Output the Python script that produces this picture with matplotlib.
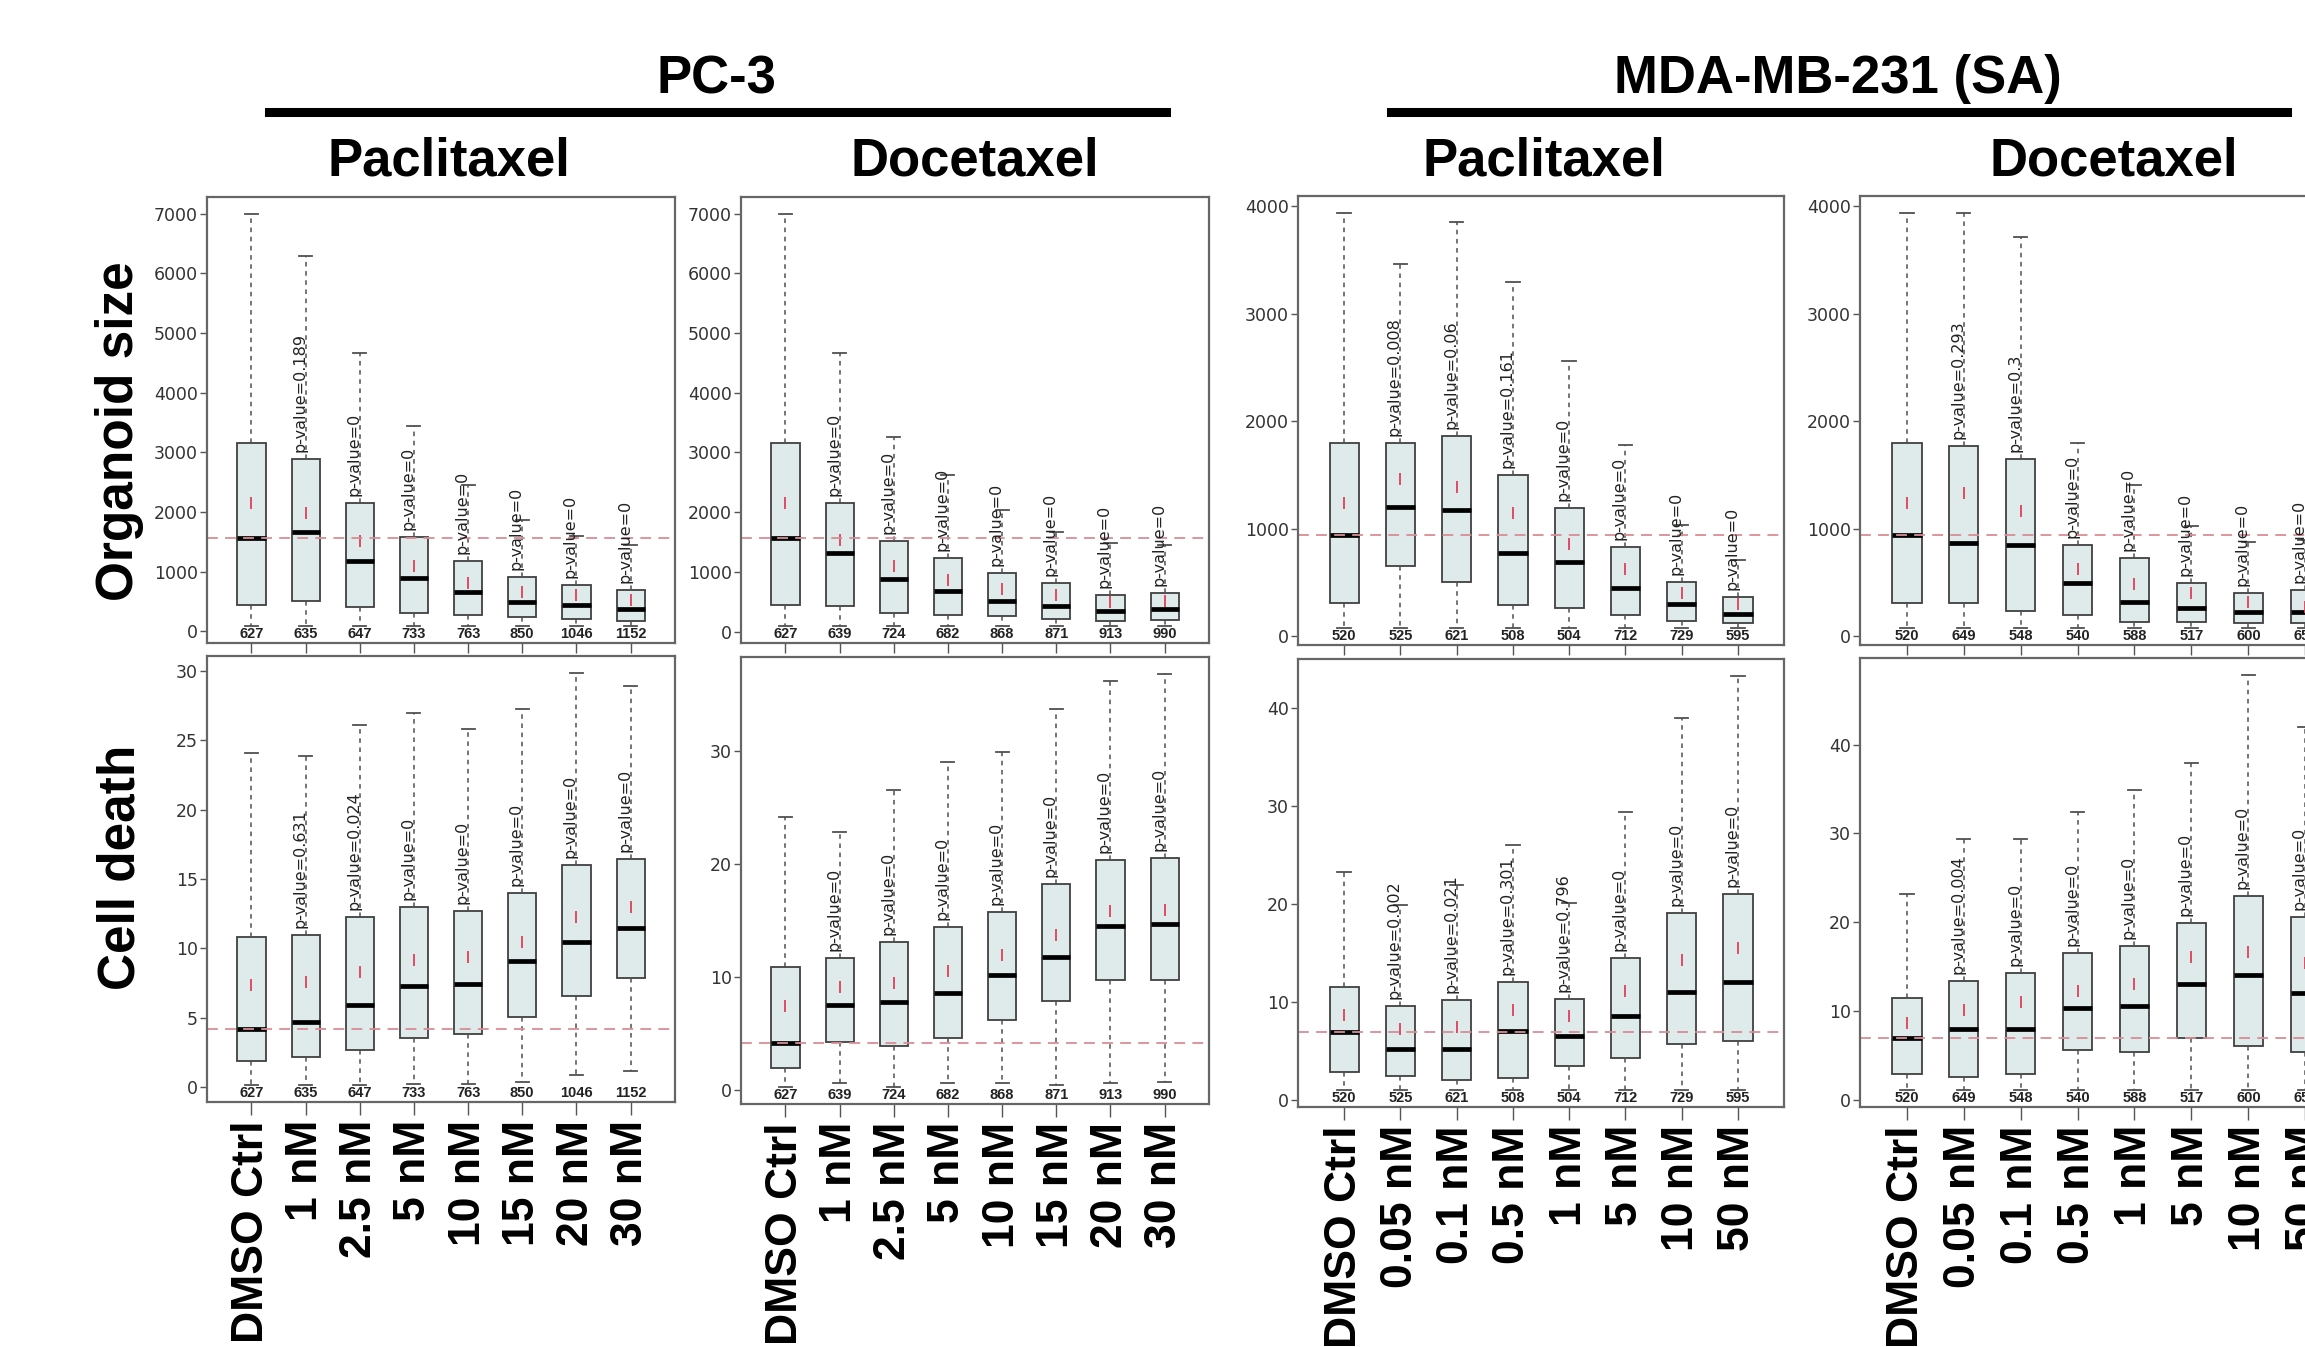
import matplotlib
matplotlib.use("Agg")
import matplotlib.pyplot as plt
from matplotlib import font_manager
from matplotlib.lines import Line2D
from matplotlib.ticker import MultipleLocator, FuncFormatter
from matplotlib.transforms import blended_transform_factory, offset_copy

W, H, DPI = 2305, 1347, 100

# ---------------- data ----------------
pc3_doses = ["DMSO Ctrl", "1 nM", "2.5 nM", "5 nM", "10 nM", "15 nM", "20 nM", "30 nM"]
mda_doses = ["DMSO Ctrl", "0.05 nM", "0.1 nM", "0.5 nM", "1 nM", "5 nM", "10 nM", "50 nM"]

pc3_pac_n = ["627", "635", "647", "733", "763", "850", "1046", "1152"]
pc3_doc_n = ["627", "639", "724", "682", "868", "871", "913", "990"]
mda_pac_n = ["520", "525", "621", "508", "504", "712", "729", "595"]
mda_doc_n = ["520", "649", "548", "540", "588", "517", "600", "652"]

# Organoid size
pc3_pac_size_whishi = [7000, 6290, 4670, 3440, 2450, 1870, 1600, 1450]
pc3_pac_size_q3 = [3150, 2880, 2150, 1580, 1180, 910, 770, 690]
pc3_pac_size_med = [1560, 1660, 1180, 900, 650, 485, 445, 380]
pc3_pac_size_q1 = [445, 500, 405, 305, 280, 235, 205, 170]
pc3_pac_size_whislo = [88, 95, 85, 85, 85, 85, 85, 80]
pc3_pac_size_mean = [2150, 1980, 1505, 1100, 810, 655, 615, 520]
pc3_pac_size_p = ["0.189", "0", "0", "0", "0", "0", "0"]

pc3_doc_size_whishi = [7000, 4660, 3260, 2620, 2040, 1670, 1480, 1450]
pc3_doc_size_q3 = [3150, 2150, 1520, 1240, 975, 810, 615, 640]
pc3_doc_size_med = [1560, 1320, 875, 680, 520, 430, 350, 375]
pc3_doc_size_q1 = [445, 430, 305, 280, 260, 205, 185, 195]
pc3_doc_size_whislo = [88, 90, 85, 85, 85, 85, 85, 85]
pc3_doc_size_mean = [2150, 1535, 1090, 865, 710, 615, 500, 520]
pc3_doc_size_p = ["0", "0", "0", "0", "0", "0", "0"]

mda_pac_size_whishi = [3940, 3460, 3850, 3290, 2560, 1780, 1030, 710]
mda_pac_size_q3 = [1795, 1795, 1865, 1500, 1195, 825, 500, 365]
mda_pac_size_med = [940, 1205, 1175, 770, 685, 445, 295, 210]
mda_pac_size_q1 = [305, 655, 505, 285, 265, 195, 145, 120]
mda_pac_size_whislo = [75, 80, 75, 80, 80, 75, 72, 75]
mda_pac_size_mean = [1240, 1460, 1385, 1145, 855, 620, 405, 300]
mda_pac_size_p = ["0.008", "0.06", "0.161", "0", "0", "0", "0"]

mda_doc_size_whishi = [3940, 3940, 3715, 1795, 1405, 1020, 880, 890]
mda_doc_size_q3 = [1795, 1765, 1645, 850, 730, 490, 400, 430]
mda_doc_size_med = [940, 870, 850, 495, 320, 260, 220, 225]
mda_doc_size_q1 = [305, 305, 235, 200, 135, 135, 120, 120]
mda_doc_size_whislo = [75, 78, 72, 80, 80, 75, 75, 75]
mda_doc_size_mean = [1240, 1330, 1165, 620, 485, 400, 320, 275]
mda_doc_size_p = ["0.293", "0.3", "0", "0", "0", "0", "0"]

# Cell death
pc3_pac_death_whishi = [24.1, 23.9, 26.1, 27.0, 25.8, 27.3, 29.9, 28.9]
pc3_pac_death_q3 = [10.85, 10.95, 12.3, 13.0, 12.7, 14.0, 16.0, 16.45]
pc3_pac_death_med = [4.2, 4.7, 5.9, 7.3, 7.45, 9.1, 10.5, 11.45]
pc3_pac_death_q1 = [1.85, 2.15, 2.7, 3.55, 3.8, 5.05, 6.55, 7.9]
pc3_pac_death_whislo = [0.12, 0.12, 0.12, 0.25, 0.25, 0.35, 0.85, 1.2]
pc3_pac_death_mean = [7.4, 7.6, 8.3, 9.15, 9.4, 10.5, 12.25, 13.0]
pc3_pac_death_p = ["0.631", "0.024", "0", "0", "0", "0", "0"]

pc3_doc_death_whishi = [24.1, 22.8, 26.5, 29.0, 29.9, 33.7, 36.1, 36.8]
pc3_doc_death_q3 = [10.9, 11.7, 13.1, 14.4, 15.7, 18.25, 20.35, 20.5]
pc3_doc_death_med = [4.2, 7.5, 7.8, 8.6, 10.2, 11.75, 14.5, 14.7]
pc3_doc_death_q1 = [1.95, 4.25, 3.9, 4.6, 6.25, 7.85, 9.75, 9.75]
pc3_doc_death_whislo = [0.25, 0.6, 0.3, 0.65, 0.65, 0.45, 0.6, 0.75]
pc3_doc_death_mean = [7.45, 9.1, 9.5, 10.55, 11.95, 13.75, 15.8, 15.9]
pc3_doc_death_p = ["0", "0", "0", "0", "0", "0", "0"]

mda_pac_death_whishi = [23.25, 19.9, 21.9, 26.0, 20.1, 29.4, 39.0, 43.3]
mda_pac_death_q3 = [11.55, 9.6, 10.2, 12.1, 10.3, 14.5, 19.05, 21.0]
mda_pac_death_med = [6.95, 5.25, 5.25, 7.05, 6.55, 8.55, 11.05, 12.1]
mda_pac_death_q1 = [2.9, 2.45, 2.05, 2.25, 3.45, 4.3, 5.7, 6.0]
mda_pac_death_whislo = [1.02, 1.0, 1.02, 1.0, 1.02, 1.0, 1.02, 1.0]
mda_pac_death_mean = [8.65, 7.3, 7.45, 9.15, 8.55, 11.15, 14.3, 15.55]
mda_pac_death_p = ["0.002", "0.021", "0.301", "0.796", "0", "0", "0"]

mda_doc_death_whishi = [23.2, 29.4, 29.4, 32.4, 34.9, 37.9, 47.9, 42.0]
mda_doc_death_q3 = [11.5, 13.35, 14.3, 16.5, 17.3, 19.95, 22.95, 20.6]
mda_doc_death_med = [6.9, 8.0, 8.0, 10.35, 10.55, 13.0, 14.1, 12.05]
mda_doc_death_q1 = [2.85, 2.55, 2.95, 5.65, 5.4, 7.0, 6.05, 5.4]
mda_doc_death_whislo = [1.05, 1.05, 1.05, 1.05, 1.05, 1.05, 1.05, 1.05]
mda_doc_death_mean = [8.6, 10.1, 11.05, 12.25, 13.0, 16.1, 16.6, 15.35]
mda_doc_death_p = ["0.004", "0", "0", "0", "0", "0", "0"]

y_tick_steps = [1000, 1000, 1000, 1000, 5, 10, 10, 10]

# ---------------- fonts ----------------
def has_font(name):
    try:
        font_manager.findfont(font_manager.FontProperties(family=name),
                              fallback_to_default=False)
        return True
    except Exception:
        return False

SANS = "Liberation Sans" if has_font("Liberation Sans") else "DejaVu Sans"
if has_font("Liberation Sans Narrow"):
    N_FONT, N_SIZE = "Liberation Sans Narrow", 11.5
else:
    N_FONT, N_SIZE = SANS, 10.5

# ---------------- layout (pixels) ----------------
panels = [
    ((207, 197, 468, 446), pc3_doses, pc3_pac_n, pc3_pac_size_whishi, pc3_pac_size_q3,
     pc3_pac_size_med, pc3_pac_size_q1, pc3_pac_size_whislo, pc3_pac_size_mean, pc3_pac_size_p, False),
    ((741, 197, 468, 446), pc3_doses, pc3_doc_n, pc3_doc_size_whishi, pc3_doc_size_q3,
     pc3_doc_size_med, pc3_doc_size_q1, pc3_doc_size_whislo, pc3_doc_size_mean, pc3_doc_size_p, False),
    ((1298, 196, 486, 449), mda_doses, mda_pac_n, mda_pac_size_whishi, mda_pac_size_q3,
     mda_pac_size_med, mda_pac_size_q1, mda_pac_size_whislo, mda_pac_size_mean, mda_pac_size_p, False),
    ((1860, 196, 492, 449), mda_doses, mda_doc_n, mda_doc_size_whishi, mda_doc_size_q3,
     mda_doc_size_med, mda_doc_size_q1, mda_doc_size_whislo, mda_doc_size_mean, mda_doc_size_p, False),
    ((207, 656, 468, 446), pc3_doses, pc3_pac_n, pc3_pac_death_whishi, pc3_pac_death_q3,
     pc3_pac_death_med, pc3_pac_death_q1, pc3_pac_death_whislo, pc3_pac_death_mean, pc3_pac_death_p, True),
    ((741, 657, 468, 447), pc3_doses, pc3_doc_n, pc3_doc_death_whishi, pc3_doc_death_q3,
     pc3_doc_death_med, pc3_doc_death_q1, pc3_doc_death_whislo, pc3_doc_death_mean, pc3_doc_death_p, True),
    ((1298, 659, 486, 448), mda_doses, mda_pac_n, mda_pac_death_whishi, mda_pac_death_q3,
     mda_pac_death_med, mda_pac_death_q1, mda_pac_death_whislo, mda_pac_death_mean, mda_pac_death_p, True),
    ((1860, 658, 492, 449), mda_doses, mda_doc_n, mda_doc_death_whishi, mda_doc_death_q3,
     mda_doc_death_med, mda_doc_death_q1, mda_doc_death_whislo, mda_doc_death_mean, mda_doc_death_p, True),
]

BOX_FILL = "#deebea"
EDGE = "#404040"
FRAME = "#666666"

fig = plt.figure(figsize=(W / DPI, H / DPI), dpi=DPI)
fig.patch.set_facecolor("white")

for idx, (rect, doses, ns, whishi, q3, med, q1, whislo, mean, pvals, bottom_row) in enumerate(panels):
    l, t, w, h = rect
    ax = fig.add_axes([l / W, 1 - (t + h) / H, w / W, h / H])
    positions = list(range(1, len(doses) + 1))
    stats = []
    for i in range(len(doses)):
        stats.append(dict(med=med[i], q1=q1[i], q3=q3[i], whislo=whislo[i],
                          whishi=whishi[i], mean=mean[i], fliers=[]))
    ax.bxp(stats, positions=positions, widths=0.52, capwidths=0.24,
           patch_artist=True, showmeans=True, manage_ticks=False,
           boxprops=dict(facecolor=BOX_FILL, edgecolor=EDGE, linewidth=1.3),
           whiskerprops=dict(color="#505050", linewidth=1.1, linestyle=(0, (3, 3))),
           capprops=dict(color="#505050", linewidth=1.3),
           medianprops=dict(color="black", linewidth=3.4),
           meanprops=dict(marker="|", markeredgecolor="#e0405a", markersize=8,
                          markeredgewidth=1.3, linestyle="none"))
    # reference line at the control median
    ax.axhline(med[0], color="#d98c95", linewidth=1.3, linestyle=(0, (6, 4)), zorder=2.5)

    # limits (R-style 4 % padding)
    lo, hi = min(whislo), max(whishi)
    pad = 0.04 * (hi - lo)
    ax.set_ylim(lo - pad, hi + pad)
    ax.set_xlim(0.5 - 0.04 * len(doses), len(doses) + 0.5 + 0.04 * len(doses))
    ax.yaxis.set_major_locator(MultipleLocator(y_tick_steps[idx]))
    ax.yaxis.set_major_formatter(FuncFormatter(lambda v, p: "%g" % v))

    for sp in ax.spines.values():
        sp.set_color(FRAME)
        sp.set_linewidth(1.6)

    ax.tick_params(axis="y", direction="out", length=5, width=1.0, color="#555555",
                   labelsize=12.5, labelcolor="#333333", pad=1.5)
    ax.set_xticks(positions)
    if bottom_row:
        ax.set_xticklabels(doses, rotation=90, fontsize=32, fontweight="bold",
                           fontfamily=SANS, color="black")
        ax.tick_params(axis="x", direction="out", length=9, width=1.0, color="#555555", pad=4)
    else:
        ax.tick_params(axis="x", direction="out", length=7.5, width=1.0, color="#555555",
                       labelbottom=False)

    # n labels along the bottom of the plotting region
    btrans = blended_transform_factory(ax.transData, ax.transAxes)
    for x, n in zip(positions, ns):
        ax.text(x, 0.004, n, transform=btrans, ha="center", va="bottom",
                fontsize=N_SIZE, fontweight="bold", fontfamily=N_FONT, color="#222222",
                zorder=5)

    # p-value annotations (treatment vs control)
    ptrans = offset_copy(ax.transData, fig=fig, x=-6, y=7, units="dots")
    for x, top, p in zip(positions[1:], q3[1:], pvals):
        ax.text(x, top, "p-value=" + p, transform=ptrans, rotation=90,
                ha="center", va="bottom", fontsize=11.5, fontfamily="DejaVu Sans",
                color="#222222", zorder=6)

# ---------------- headers ----------------
def fx(x):
    return x / W

def fy(y):
    return 1 - y / H

hdr = dict(fontsize=38, fontweight="bold", fontfamily=SANS, color="black")
fig.text(fx(716), fy(93), "PC-3", ha="center", va="baseline", **hdr)
fig.text(fx(1838), fy(93), "MDA-MB-231 (SA)", ha="center", va="baseline", **hdr)
fig.add_artist(Line2D([fx(269), fx(1166)], [fy(111.5)] * 2, color="black", linewidth=6.5,
                      transform=fig.transFigure))
fig.add_artist(Line2D([fx(1391), fx(2287)], [fy(111.5)] * 2, color="black", linewidth=6.5,
                      transform=fig.transFigure))
for cx, name in [(449, "Paclitaxel"), (975, "Docetaxel"), (1544, "Paclitaxel"), (2114, "Docetaxel")]:
    fig.text(fx(cx), fy(175), name, ha="center", va="baseline", **hdr)

row = dict(fontsize=37, fontweight="bold", fontfamily=SANS, color="black",
           rotation=90, ha="center", va="center")
fig.text(fx(120), fy(431), "Organoid size", **row)
fig.text(fx(121), fy(867), "Cell death", **row)

fig.savefig("out.png", dpi=DPI, facecolor="white")
